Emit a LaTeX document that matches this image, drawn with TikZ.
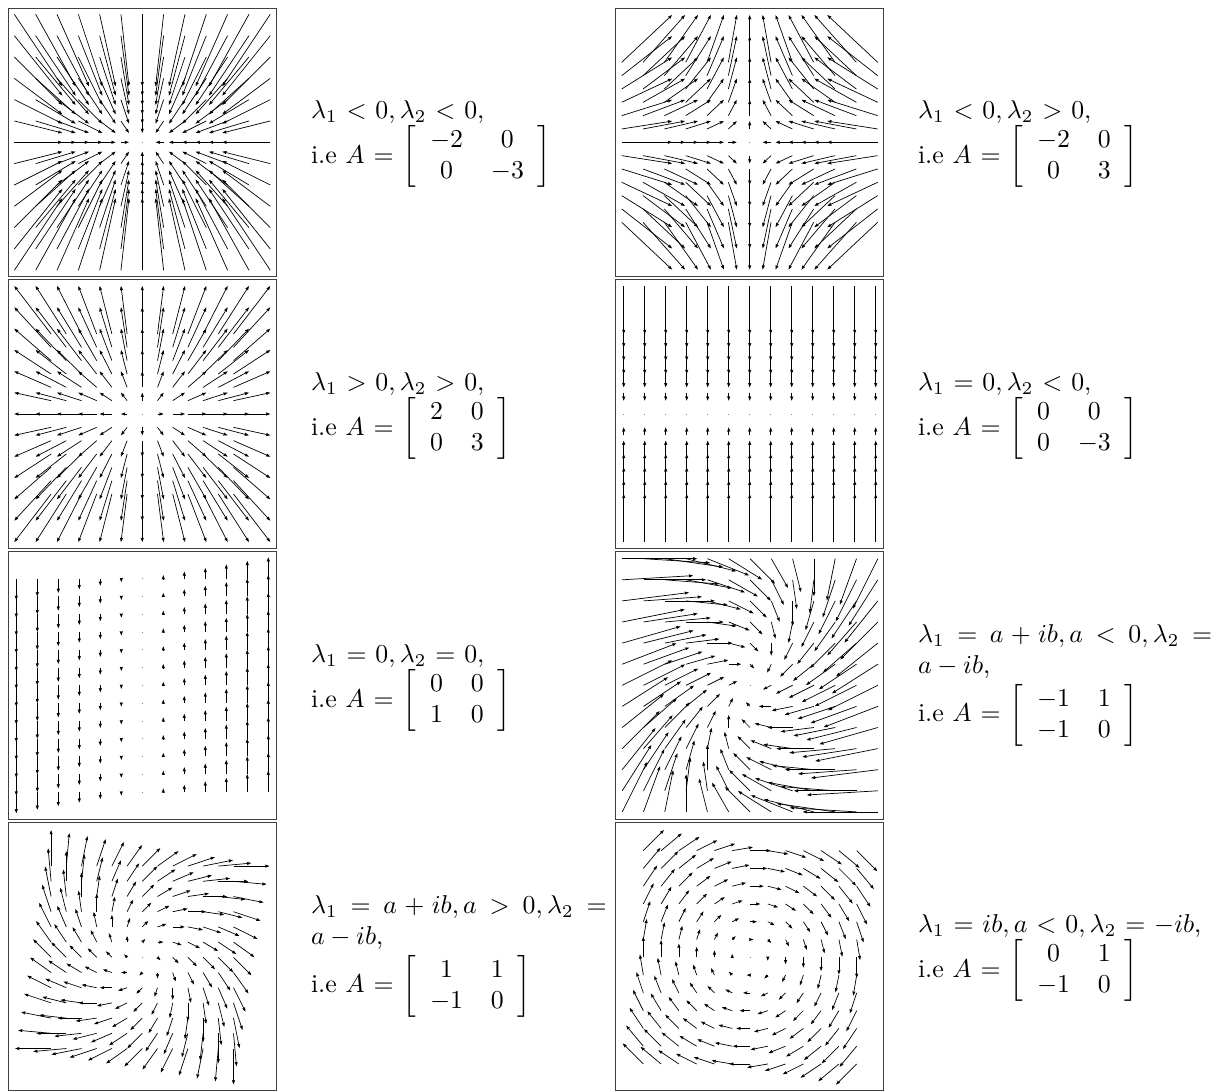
\documentclass[tikz,border=0pt]{standalone}
\usetikzlibrary{arrows.meta}
\thickmuskip=6.2mu plus 5mu
\setlength{\arraycolsep}{5.4pt}
\tikzset{
  qarrow/.style={line width=0.7pt,black,-{Stealth[length=4.2pt,width=3pt,inset=0.3pt]}},
  qdot/.style={line width=0.6pt,gray},
  panel/.style={draw=black!75,line width=0.9pt},
  eqtext/.style={inner sep=0pt,outer sep=0pt,anchor=north west,scale=2.58,transform shape}
}
% cx cy bx by sx sy a b c d
\newcommand{\qfield}[8]{%
  \def\qa{#7}\def\qcx{#1}\def\qcy{#2}\def\qbx{#3}\def\qby{#4}\def\qsx{#5}\def\qsy{#6}%
  \qfieldB#8\relax}
\def\qfieldB#1,#2,#3\relax{%
  \def\qb{#1}\def\qc{#2}\def\qd{#3}%
  \foreach \qi in {-6,...,6}{\foreach \qj in {-6,...,6}{%
    \pgfmathsetmacro{\qxa}{\qcx+\qbx*\qi}%
    \pgfmathsetmacro{\qya}{\qcy-\qby*\qj}%
    \pgfmathsetmacro{\qvx}{\qsx*(\qa*\qi+\qb*\qj)}%
    \pgfmathsetmacro{\qvy}{\qsy*(\qc*\qi+\qd*\qj)}%
    \pgfmathsetmacro{\qxb}{\qxa+\qvx}%
    \pgfmathsetmacro{\qyb}{\qya-\qvy}%
    \pgfmathparse{abs(\qvx)+abs(\qvy)<0.01?1:0}%
    \ifnum\pgfmathresult=1
      \draw[qdot] ({\qxa-0.5},\qya) -- ({\qxa+0.5},\qya);
    \else
      \draw[qarrow] (\qxa,\qya) -- (\qxb,\qyb);
    \fi
  }}%
}
\begin{document}
\begin{tikzpicture}[x=1pt,y=-1pt]
\useasboundingbox (0,0) rectangle (1225,1091);
% frames
\draw[panel] (8.3,8.3) rectangle (276.5,276.5);
\draw[panel] (615.5,8.3) rectangle (883.7,276.5);
\draw[panel] (8.3,279.5) rectangle (276.5,548.3);
\draw[panel] (615.5,279.5) rectangle (883.7,548.3);
\draw[panel] (8.3,551) rectangle (276.5,819.5);
\draw[panel] (615.5,551) rectangle (883.7,819.5);
\draw[panel] (8.3,822.7) rectangle (276.5,1090.6);
\draw[panel] (615.5,822.7) rectangle (883.7,1090.6);
% fields
\qfield{142.3}{142.3}{21.33}{21.33}{4}{4}{-2}{0,0,-3}
\qfield{749.7}{142.3}{21.33}{13.33}{4.2}{2.63}{-2}{0,0,3}
\qfield{142.3}{414}{15.2}{13.33}{3.07}{2.67}{2}{0,0,3}
\qfield{749.7}{414}{21}{21.33}{0}{2.67}{0}{0,0,-3}
\qfield{142.3}{685.3}{21}{17.78}{0}{3.56}{0}{0,1,0}
\qfield{750}{685.3}{21.3}{21.1}{4.17}{4.17}{-2}{1,-1,-1}
\qfield{142.3}{957.3}{15.2}{15.2}{3}{3}{1}{1,-1,1}
\qfield{750}{957.3}{17.78}{17.78}{3.44}{3.44}{0}{1,-1,0}
% text
\node[eqtext] (t1) at (311,100.4) {\parbox[t]{114.6pt}{$\lambda_1<0,\lambda_2<0$,\\ i.e $A=\left[\begin{array}{cc}-2&0\\0&-3\end{array}\right]$}};
\node[eqtext] (t2) at (918,100.4) {\parbox[t]{114pt}{$\lambda_1<0,\lambda_2>0$,\\ i.e $A=\left[\begin{array}{cc}-2&0\\0&3\end{array}\right]$}};
\node[eqtext] (t3) at (311,372.4) {\parbox[t]{114.6pt}{$\lambda_1>0,\lambda_2>0$,\\ i.e $A=\left[\begin{array}{cc}2&0\\0&3\end{array}\right]$}};
\node[eqtext] (t4) at (918,372.4) {\parbox[t]{114pt}{$\lambda_1=0,\lambda_2<0$,\\ i.e $A=\left[\begin{array}{cc}0&0\\0&-3\end{array}\right]$}};
\node[eqtext] (t5) at (311,644.4) {\parbox[t]{114.6pt}{$\lambda_1=0,\lambda_2=0$,\\ i.e $A=\left[\begin{array}{cc}0&0\\1&0\end{array}\right]$}};
\node[eqtext] (t6) at (918,624.4) {\parbox[t]{114pt}{$\lambda_1=a+ib,a<0,\lambda_2=$\linebreak$a-ib$,\\[1.4pt] i.e $A=\left[\begin{array}{cc}-1&1\\-1&0\end{array}\right]$}};
\node[eqtext] (t7) at (311,895.4) {\parbox[t]{114.6pt}{$\lambda_1=a+ib,a>0,\lambda_2=$\linebreak$a-ib$,\\[1.4pt] i.e $A=\left[\begin{array}{cc}1&1\\-1&0\end{array}\right]$}};
\node[eqtext] (t8) at (918,914.4) {\parbox[t]{114pt}{$\lambda_1=ib,a<0,\lambda_2=-ib$,\\ i.e $A=\left[\begin{array}{cc}0&1\\-1&0\end{array}\right]$}};
\end{tikzpicture}
\end{document}
